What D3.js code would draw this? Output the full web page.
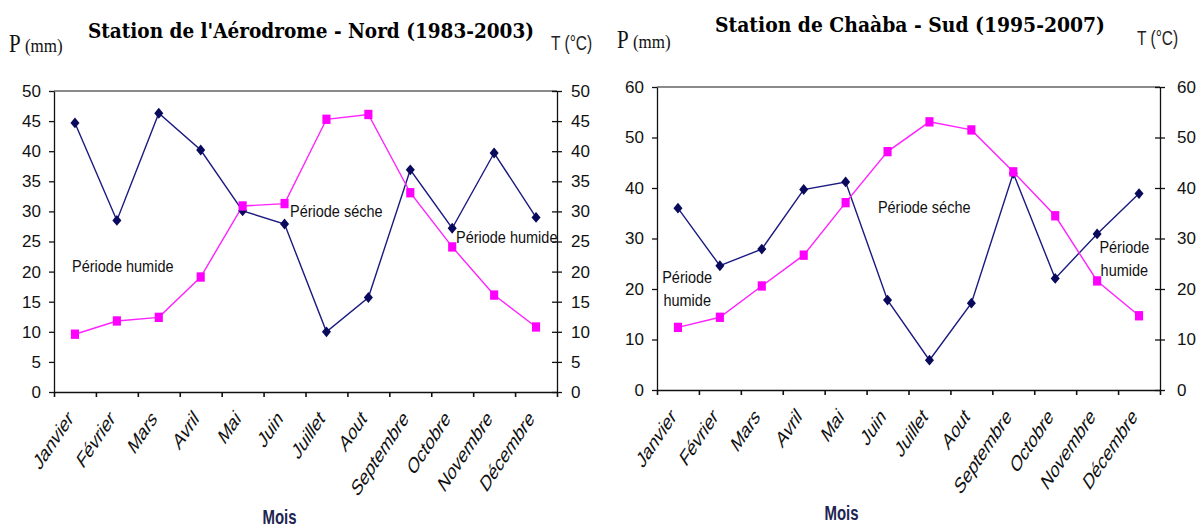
<!DOCTYPE html>
<html>
<head>
<meta charset="utf-8">
<script src="https://cdn.jsdelivr.net/npm/d3@7"></script>
<style>
  html, body { margin: 0; padding: 0; background: #fff; }
  svg { display: block; }
</style>
</head>
<body>
<div id="chart"></div>
<script>
// Diagrammes ombrothermiques : deux stations, P (mm) et T (°C) par mois

var months = ['Janvier', 'Février', 'Mars', 'Avril', 'Mai', 'Juin', 'Juillet', 'Aout', 'Septembre', 'Octobre', 'Novembre', 'Décembre'];

var nordP = [44.7, 28.5, 46.3, 40.2, 30.1, 27.9, 10.0, 15.7, 36.9, 27.2, 39.7, 29.0];
var nordT = [9.6, 11.8, 12.4, 19.1, 30.9, 31.3, 45.3, 46.1, 33.1, 24.1, 16.1, 10.8];
var nordTicks = [0, 5, 10, 15, 20, 25, 30, 35, 40, 45, 50];

var sudP = [36.0, 24.6, 27.9, 39.7, 41.2, 17.8, 5.9, 17.2, 42.9, 22.1, 30.9, 38.9];
var sudT = [12.4, 14.4, 20.6, 26.7, 37.1, 47.2, 53.1, 51.5, 43.2, 34.5, 21.6, 14.7];
var sudTicks = [0, 10, 20, 30, 40, 50, 60];

// annotation positions given in chart units (month slot, value)
var nordNotes = [
  { lines: ['Période humide'], u: 0.43, v: 19.9, anchor: 'start' },
  { lines: ['Période séche'], u: 5.63, v: 29.1, anchor: 'start' },
  { lines: ['Période humide'], u: 9.59, v: 24.75, anchor: 'start' }
];
var sudNotes = [
  { lines: ['Période', 'humide'], u: 0.72, v: 21.2, anchor: 'middle' },
  { lines: ['Période séche'], u: 5.27, v: 35.0, anchor: 'start' },
  { lines: ['Période', 'humide'], u: 11.15, v: 27.1, anchor: 'middle' }
];

var W = 1197, H = 531;
var svg = d3.select('#chart').append('svg').attr('width', W).attr('height', H);
svg.append('rect').attr('width', W).attr('height', H).attr('fill', '#fff');

var SANS = '"Liberation Sans", Arial, sans-serif';

function stretchedText(g, x, y, str, size, sy, opts) {
  opts = opts || {};
  var t = g.append('text')
    .attr('transform', 'translate(' + x + ',' + y + ') scale(1,' + sy + ')')
    .attr('font-family', opts.family || SANS)
    .attr('font-size', size)
    .attr('font-weight', opts.weight || 'normal')
    .attr('text-anchor', opts.anchor || 'start')
    .attr('fill', opts.fill || '#000')
    .text(str);
  if (opts.len) t.attr('textLength', opts.len).attr('lengthAdjust', 'spacingAndGlyphs');
  return t;
}

function drawChart(cfg) {
  var g = svg.append('g');
  var xBand = d3.scaleBand().domain(months).range([cfg.left, cfg.right]).padding(0);
  var xSlot = d3.scaleLinear().domain([0, 12]).range([cfg.left, cfg.right]);
  var y = d3.scaleLinear().domain([0, cfg.max]).range([cfg.bottom, cfg.top]);
  var cx = function (d, i) { return xBand(months[i]) + xBand.bandwidth() / 2; };

  // top border of plot area
  g.append('line')
    .attr('x1', cfg.left).attr('x2', cfg.right)
    .attr('y1', y(cfg.max)).attr('y2', y(cfg.max))
    .attr('stroke', '#8a8a8a').attr('stroke-width', 2);

  // left axis
  g.append('g')
    .attr('transform', 'translate(' + cfg.left + ',0)')
    .call(d3.axisLeft(y).tickValues(cfg.ticks).tickSize(5).tickPadding(8).tickSizeOuter(0))
    .call(function (a) { a.selectAll('text').attr('font-family', SANS).attr('font-size', 17).attr('fill', '#111'); })
    .call(function (a) { a.selectAll('line,path').attr('stroke', '#111').attr('stroke-width', 1.3); });

  // right axis
  g.append('g')
    .attr('transform', 'translate(' + cfg.right + ',0)')
    .call(d3.axisRight(y).tickValues(cfg.ticks).tickSize(5).tickPadding(cfg.rpad).tickSizeOuter(0))
    .call(function (a) { a.selectAll('text').attr('font-family', SANS).attr('font-size', 17).attr('fill', '#111'); })
    .call(function (a) { a.selectAll('.tick line').attr('x1', -5); })
    .call(function (a) { a.selectAll('line,path').attr('stroke', '#111').attr('stroke-width', 1.3); });

  // bottom axis: ticks between months
  g.append('g')
    .attr('transform', 'translate(0,' + cfg.bottom + ')')
    .call(d3.axisBottom(xSlot).ticks(12).tickSize(5).tickSizeOuter(0).tickFormat(''))
    .call(function (a) { a.selectAll('line,path').attr('stroke', '#111').attr('stroke-width', 1.6); });

  // month labels, rotated then stretched vertically
  g.selectAll('.mlbl')
    .data(months)
    .join('text')
    .attr('class', 'mlbl')
    .attr('transform', function (d) {
      return 'translate(' + (xBand(d) + xBand.bandwidth() / 2 - 1) + ',' + (cfg.bottom + 28) + ') scale(1,1.5) rotate(-45)';
    })
    .attr('text-anchor', 'end')
    .attr('font-family', SANS)
    .attr('font-size', 15)
    .attr('fill', '#111')
    .text(function (d) { return d; });

  var line = d3.line().x(cx).y(function (d) { return y(d); });

  // precipitation
  g.append('path').datum(cfg.p)
    .attr('fill', 'none').attr('stroke', '#1a1a80').attr('stroke-width', 1.4).attr('d', line);
  // temperature
  g.append('path').datum(cfg.t)
    .attr('fill', 'none').attr('stroke', '#ff22ff').attr('stroke-width', 1.4).attr('d', line);

  var diamond = d3.symbol().type(d3.symbolDiamond2).size(52);
  g.selectAll('.pm')
    .data(cfg.p)
    .join('path')
    .attr('class', 'pm')
    .attr('d', diamond)
    .attr('transform', function (d, i) { return 'translate(' + cx(d, i) + ',' + y(d) + ') scale(1,1.2)'; })
    .attr('fill', '#0a0a5c');

  var square = d3.symbol().type(d3.symbolSquare).size(66);
  g.selectAll('.tm')
    .data(cfg.t)
    .join('path')
    .attr('class', 'tm')
    .attr('d', square)
    .attr('transform', function (d, i) { return 'translate(' + cx(d, i) + ',' + y(d) + ') scale(1,1.15)'; })
    .attr('fill', '#ff00ff');

  // period annotations
  cfg.notes.forEach(function (n) {
    n.lines.forEach(function (s, k) {
      stretchedText(g, xSlot(n.u), y(n.v) + k * 23, s, 14.5, 1.18, { anchor: n.anchor, fill: '#111' });
    });
  });

  // titles and axis captions
  stretchedText(g, cfg.titleX, cfg.titleY, cfg.title, 18, 1.15,
    { family: '"DejaVu Serif", serif', weight: 'bold', len: cfg.titleLen });

  var pl = g.append('text')
    .attr('transform', 'translate(' + cfg.pX + ',' + cfg.pY + ') scale(1,1.15)')
    .attr('font-family', '"Liberation Serif", serif')
    .attr('fill', '#111');
  pl.append('tspan').attr('font-size', 21).text('P');
  pl.append('tspan').attr('font-size', 17).text(' (mm)');

  stretchedText(g, cfg.tX, cfg.tY, 'T (°C)', 15.5, 1.3, { fill: '#222' });

  stretchedText(g, (cfg.left + cfg.right) / 2 + cfg.moisDx, cfg.moisY, 'Mois', 15, 1.3,
    { weight: 'bold', anchor: 'middle', fill: '#1e2552' });
}

drawChart({
  left: 54, right: 557, top: 91, bottom: 392, max: 50, ticks: nordTicks, rpad: 9,
  p: nordP, t: nordT, notes: nordNotes,
  title: "Station de l'Aérodrome - Nord (1983-2003)", titleX: 88, titleY: 38, titleLen: 446,
  pX: 9, pY: 52, tX: 551, tY: 50, moisDx: -26, moisY: 524
});

drawChart({
  left: 657, right: 1160, top: 87, bottom: 390, max: 60, ticks: sudTicks, rpad: 12,
  p: sudP, t: sudT, notes: sudNotes,
  title: 'Station de Chaàba - Sud (1995-2007)', titleX: 715, titleY: 32, titleLen: 390,
  pX: 617, pY: 48, tX: 1137, tY: 45, moisDx: -67, moisY: 520
});
</script>
</body>
</html>
